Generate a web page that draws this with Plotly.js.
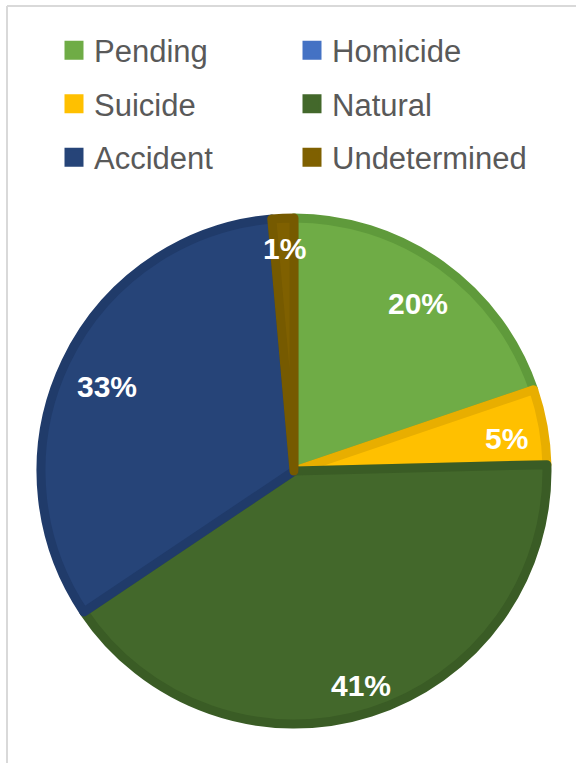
<!DOCTYPE html>
<html><head><meta charset="utf-8">
<script src="https://cdn.plot.ly/plotly-3.0.1.min.js"></script>
<style>html,body{margin:0;padding:0;background:#fff}#chart{width:576px;height:763px}</style>
</head><body><div id="chart"></div>
<script>
// ---- data ----
const categories = ['Pending', 'Homicide', 'Suicide', 'Natural', 'Accident', 'Undetermined'];
const shares = [19.8, 0, 4.8, 41.0, 33.0, 1.4];
// ---- styles ----
const fillColors = ['#6FAC46', '#4472C4', '#FFC000', '#43682B', '#264478', '#7F6000'];
const edgeColors = ['#5F9A3B', '#3A62A8', '#E8AE00', '#3A5C25', '#203B6A', '#765A00'];

const W = 576, H = 763;
const FONT = 'Liberation Sans, Arial, sans-serif';
const strokeW = 9;
const pieDomain = {x: [41 / W, 547 / W], y: [1 - 724 / H, 1 - 218 / H]};

const pie = {
  type: 'pie', labels: categories, values: shares, sort: false, direction: 'clockwise', rotation: 0,
  textinfo: 'none', hoverinfo: 'none', showlegend: false, domain: pieDomain,
  marker: {colors: fillColors, line: {color: edgeColors, width: shares.map(v => v > 0 ? strokeW : 0)}}
};

// legend entries, two per row
const legendIds = ['legend', 'legend2', 'legend3'];
const legendTraces = categories.map((c, k) => ({
  type: 'scatter', mode: 'markers', x: [null], y: [null], name: c, hoverinfo: 'none',
  legend: legendIds[Math.floor(k / 2)],
  marker: {symbol: 'square', size: 16, color: fillColors[k], line: {color: fillColors[k], width: 3}}
}));

// percentage labels placed near the outer edge of each slice
const total = shares.reduce((a, b) => a + b, 0);
const cx = (pieDomain.x[0] + pieDomain.x[1]) / 2 * W;
const cy = (1 - (pieDomain.y[0] + pieDomain.y[1]) / 2) * H;
const R = Math.min((pieDomain.x[1] - pieDomain.x[0]) * W, (pieDomain.y[1] - pieDomain.y[0]) * H) / 2 + 5;
const labelSize = 30;
const annotations = [];
let cum = 0;
shares.forEach((v, i) => {
  const mid = (cum + v / 2) / total * 2 * Math.PI;
  cum += v;
  if (v <= 0) return;
  const pct = Math.round(v / total * 100);
  const w = (String(pct).length * 0.556 + 0.889) * labelSize;
  const h = 0.72 * labelSize;
  const e = Math.abs(Math.sin(mid)) * w / 2 + Math.abs(Math.cos(mid)) * h / 2;
  const r = R - 19 - e;
  const px = cx + r * Math.sin(mid), py = cy - r * Math.cos(mid);
  annotations.push({
    xref: 'paper', yref: 'paper', x: px / W, y: 1 - py / H, xanchor: 'center', yanchor: 'middle',
    yshift: -5, text: pct + '%', showarrow: false,
    font: {family: FONT, size: labelSize, color: '#FFFFFF', weight: 700}
  });
});

const rowCenters = [50.5, 104, 157.5];
const legendBase = {
  orientation: 'h', xanchor: 'left', yanchor: 'middle', x: 54 / W,
  entrywidth: 193, entrywidthmode: 'pixels', bgcolor: 'rgba(0,0,0,0)',
  font: {family: FONT, size: 31, color: '#595959'}, itemclick: false, itemdoubleclick: false
};
const layout = {
  width: W, height: H, margin: {l: 0, r: 0, t: 0, b: 0},
  paper_bgcolor: '#FFFFFF', plot_bgcolor: 'rgba(0,0,0,0)',
  xaxis: {visible: false, domain: [0, 1]}, yaxis: {visible: false, domain: [0, 1]},
  showlegend: true,
  legend: Object.assign({}, legendBase, {y: 1 - rowCenters[0] / H}),
  legend2: Object.assign({}, legendBase, {y: 1 - rowCenters[1] / H}),
  legend3: Object.assign({}, legendBase, {y: 1 - rowCenters[2] / H}),
  annotations: annotations,
  shapes: [
    {type: 'line', xref: 'paper', yref: 'paper', x0: 7 / W, x1: 1, y0: 1 - 6 / H, y1: 1 - 6 / H, line: {color: '#D9D9D9', width: 2}},
    {type: 'line', xref: 'paper', yref: 'paper', x0: 7 / W, x1: 7 / W, y0: 0, y1: 1 - 6 / H, line: {color: '#D9D9D9', width: 2}}
  ]
};

Plotly.newPlot('chart', [pie].concat(legendTraces), layout, {displayModeBar: false, staticPlot: true});
</script></body></html>
